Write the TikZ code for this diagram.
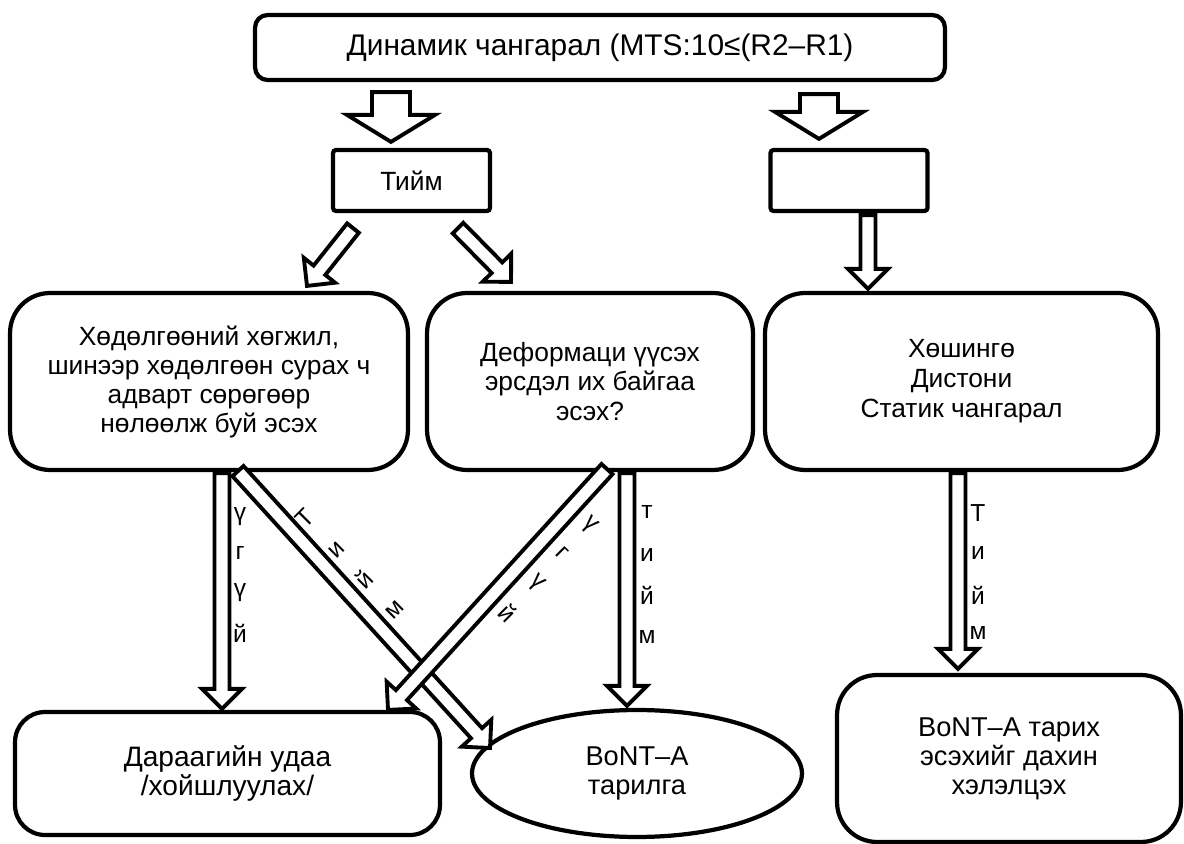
\documentclass[tikz,border=0pt]{standalone}
\usepackage{fontspec}
\setmainfont{Liberation Sans}
\usetikzlibrary{calc, positioning, shapes.geometric}

% hollow block arrow: tail, tip, shaft half width, head half width, head length
\newcommand{\blockarrow}[5]{%
  \coordinate (bh) at ($(#2)!#5!(#1)$);
  \draw[harrow] ($(#1)!#3!90:(#2)$) -- ($(bh)!#3!90:(#2)$) -- ($(bh)!#4!90:(#2)$) -- (#2)
    -- ($(bh)!#4!-90:(#2)$) -- ($(bh)!#3!-90:(#2)$) -- ($(#1)!#3!-90:(#2)$) -- cycle;
}

\tikzset{
  box/.style={draw, line width=2.4pt, rounded corners=#1, inner sep=0pt, align=center,
    font=\fontsize{15}{16.5}\selectfont},
  box/.default=0.8cm,
  harrow/.style={draw, fill=white, line width=2.2pt, line join=miter},
  lbl/.style={inner sep=0pt, font=\fontsize{14}{16}\selectfont},
}

\begin{document}
\begin{tikzpicture}[x=0.02cm, y=-0.02cm]
  \useasboundingbox (0,0) rectangle (1184,844);

  % boxes
  \node[box=0.25cm, minimum width=13.8cm, minimum height=1.3cm, font=\fontsize{17}{20}\selectfont] (top) at (600,47.5) {Динамик чангарал (MTS:10≤(R2–R1)};
  \node[box=0.06cm, minimum width=3.14cm, minimum height=1.22cm] (yes) at (411.5,180.5) {Тийм};
  \node[box=0.06cm, minimum width=3.14cm, minimum height=1.22cm] (empty) at (849,180.5) {};
  \node[box, minimum width=7.96cm, minimum height=3.54cm] (lbox) at (209,381.5)
    {Хөдөлгөөний хөгжил,\\шинээр хөдөлгөөн сурах ч\\адварт сөрөгөөр\\нөлөөлж буй эсэх};
  \node[box, minimum width=6.52cm, minimum height=3.54cm, font=\fontsize{15}{17}\selectfont] (mbox) at (590,381.5)
    {Деформаци үүсэх\\эрсдэл их байгаа\\эсэх?};
  \node[box, minimum width=7.86cm, minimum height=3.54cm, font=\fontsize{15}{17}\selectfont] (rbox) at (961.5,381.5)
    {Хөшингө\\Дистони\\Статик чангарал};
  \node[box=0.6cm, minimum width=8.5cm, minimum height=2.46cm, font=\fontsize{16}{16}\selectfont] (next) at (227.5,773.5)
    {Дараагийн удаа\\/хойшлуулах/};
  \node[draw, line width=2.4pt, ellipse, inner sep=0pt, minimum width=6.6cm, minimum height=2.54cm,
    align=center, font=\fontsize{15.5}{16.5}\selectfont] (ell) at (637,773.5) {BoNT–A\\тарилга};
  \node[box, minimum width=6.88cm, minimum height=3.34cm, font=\fontsize{15.5}{16.5}\selectfont] (rbot) at (1009,758.5)
    {BoNT–A тарих\\эсэхийг дахин\\хэлэлцэх};

  % arrow ends
  \coordinate (a1s) at ($(top.south)+(-209,10)$);
  \coordinate (a1e) at ($(yes.north)+(-20.5,-6)$);
  \coordinate (a2s) at ($(top.south)+(219,12)$);
  \coordinate (a2e) at ($(empty.north)+(-30,-9)$);
  \coordinate (a3s) at ($(yes.south)+(-58.5,15)$);
  \coordinate (a3e) at ($(lbox.north)+(98,-5)$);
  \coordinate (a4s) at ($(yes.south)+(46.5,15)$);
  \coordinate (a4e) at ($(mbox.north)+(-79,-9)$);
  \coordinate (a5s) at ($(empty.south)+(19,2)$);
  \coordinate (a5e) at ($(rbox.north)+(-93.5,-2)$);
  \coordinate (a6s) at ($(lbox.south)+(13,1)$);
  \coordinate (a6e) at ($(next.north)+(-5.5,-1)$);
  \coordinate (a7s) at ($(lbox.south)+(29,-1)$);
  \coordinate (a7e) at ($(ell.center)+(-147,-25.5)$);
  \coordinate (a8s) at ($(mbox.south)+(17,-3)$);
  \coordinate (a8e) at ($(next.north)+(160.5,0)$);
  \coordinate (a9s) at ($(mbox.south)+(37,1)$);
  \coordinate (a9e) at ($(ell.north)+(-10,-2)$);
  \coordinate (a10s) at ($(rbox.south)+(-3.5,1)$);
  \coordinate (a10e) at ($(rbot.north)+(-51,-4)$);

  % arrows
  \blockarrow{a1s}{a1e}{0.38cm}{0.88cm}{0.54cm}
  \blockarrow{a2s}{a2e}{0.38cm}{0.88cm}{0.54cm}
  \blockarrow{a3s}{a3e}{0.15cm}{0.4cm}{0.4cm}
  \blockarrow{a4s}{a4e}{0.15cm}{0.4cm}{0.4cm}
  \blockarrow{a5s}{a5e}{0.15cm}{0.4cm}{0.4cm}
  \blockarrow{a6s}{a6e}{0.15cm}{0.4cm}{0.4cm}
  \blockarrow{a7s}{a7e}{0.15cm}{0.4cm}{0.4cm}
  \blockarrow{a8s}{a8e}{0.15cm}{0.4cm}{0.4cm}
  \blockarrow{a9s}{a9e}{0.15cm}{0.4cm}{0.4cm}
  \blockarrow{a10s}{a10e}{0.15cm}{0.4cm}{0.4cm}

  % arrow labels
  \foreach \ch/\yy [count=\i] in {ү/517, г/553, ү/593, й/633}
    \node[lbl] (no\i) at (240,\yy) {\ch};
  \foreach \ch/\xx/\yy [count=\i] in {Т/305/518, и/337/550, й/364/579, м/395/610}
    \node[lbl, rotate=45] (yd\i) at (\xx,\yy) {\ch};
  \foreach \ch/\xx/\yy [count=\i] in {ү/590/525, г/562/553, ү/537/583, й/508/613}
    \node[lbl, rotate=-45] (nd\i) at (\xx,\yy) {\ch};
  \foreach \ch/\yy [count=\i] in {т/512, и/555, й/595, м/637}
    \node[lbl] (ym\i) at (647,\yy) {\ch};
  \foreach \ch/\yy [count=\i] in {Т/513, и/553, й/595, м/633}
    \node[lbl] (yr\i) at (978,\yy) {\ch};
\end{tikzpicture}
\end{document}
